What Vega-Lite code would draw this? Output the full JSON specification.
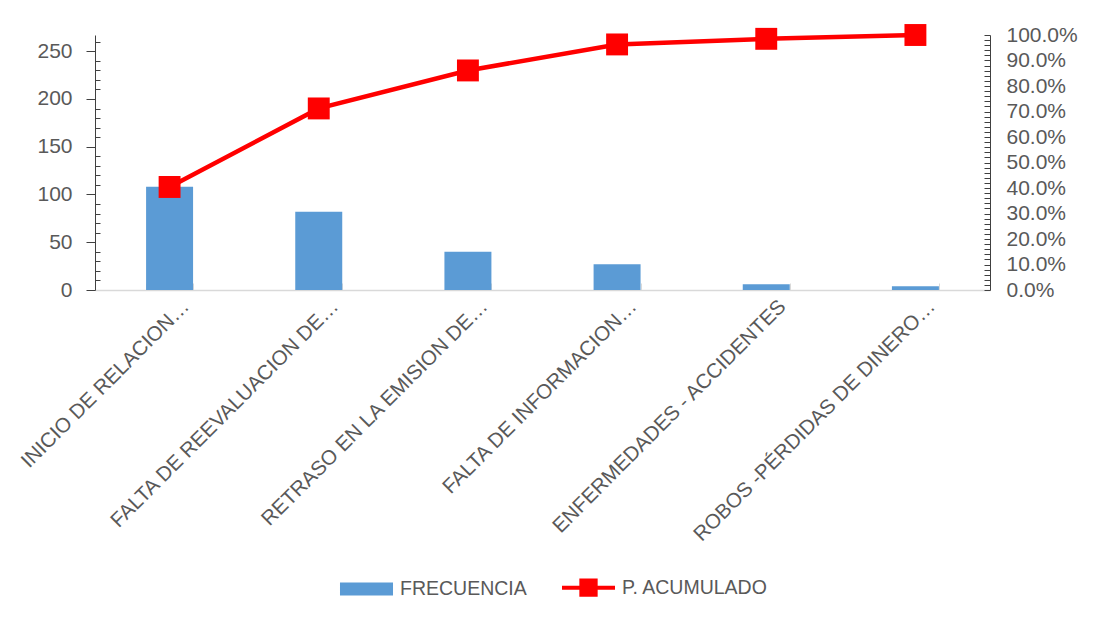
{
  "$schema": "https://vega.github.io/schema/vega-lite/v6.json",
  "width": 895,
  "height": 255,
  "autosize": {"type": "none"},
  "padding": {"left": 95, "top": 35, "right": 108, "bottom": 335},
  "background": "white",
  "config": {
    "view": {"stroke": null},
    "font": "Liberation Sans",
    "axis": {"labelColor": "#595959", "labelFont": "Liberation Sans", "grid": false},
    "legend": {"labelFont": "Liberation Sans"}
  },
  "data": {
    "values": [
      {"causa": "INICIO DE RELACION…", "frecuencia": 108, "pacum": 0.404},
      {"causa": "FALTA DE REEVALUACION DE…", "frecuencia": 82, "pacum": 0.712},
      {"causa": "RETRASO EN LA EMISION DE…", "frecuencia": 40, "pacum": 0.861},
      {"causa": "FALTA DE INFORMACION…", "frecuencia": 27, "pacum": 0.963},
      {"causa": "ENFERMEDADES - ACCIDENTES", "frecuencia": 6, "pacum": 0.985},
      {"causa": "ROBOS -PÉRDIDAS DE DINERO…", "frecuencia": 4, "pacum": 1.0}
    ]
  },
  "encoding": {
    "x": {
      "field": "causa",
      "type": "nominal",
      "sort": null,
      "scale": {"paddingInner": 0.685, "paddingOuter": 0.3425},
      "axis": {
        "title": null,
        "labelAngle": -45,
        "labelAlign": "right",
        "labelBaseline": "middle",
        "labelFontSize": 20.5,
        "labelPadding": 20,
        "labelOffset": 16,
        "labelLimit": 0,
        "domainColor": "#d9d9d9",
        "domainWidth": 1.5,
        "tickColor": "#d9d9d9",
        "tickSize": -7,
        "tickBand": "extent"
      }
    }
  },
  "layer": [
    {
      "mark": {"type": "bar"},
      "encoding": {
        "y": {
          "field": "frecuencia",
          "type": "quantitative",
          "scale": {"domain": [0, 267], "nice": false},
          "axis": {
            "title": null,
            "values": [0, 10, 20, 30, 40, 50, 60, 70, 80, 90, 100, 110, 120, 130, 140, 150, 160, 170, 180, 190, 200, 210, 220, 230, 240, 250, 260],
            "labelExpr": "datum.value % 50 === 0 ? datum.label : ''",
            "labelFontSize": 21,
            "labelPadding": 14,
            "labelOverlap": false,
            "labelFlush": false,
            "labelBound": false,
            "domainColor": "#404040",
            "tickColor": "#404040",
            "tickSize": {"condition": {"test": "datum.value % 50 === 0", "value": 9}, "value": -5}
          }
        },
        "color": {
          "datum": "FRECUENCIA",
          "type": "nominal",
          "scale": {"domain": ["FRECUENCIA", "P. ACUMULADO"], "range": ["#5B9BD5", "#FF0000"]},
          "legend": {
            "orient": "none",
            "legendX": 243,
            "legendY": 524,
            "direction": "horizontal",
            "title": null,
            "labelFontSize": 19.5,
            "labelColor": "#595959",
            "labelLimit": 300,
            "symbolSize": 2809,
            "labelOffset": 5,
            "columnPadding": 27,
            "symbolType": "square",
            "encode": {
              "symbols": {
                "update": {
                  "shape": {"signal": "datum.value === 'FRECUENCIA' ? 'M-0.925,-0.17H0.925V0.17H-0.925Z' : 'M-1,0H1M-0.27,-0.27H0.27V0.27H-0.27Z'"},
                  "strokeWidth": {"value": 4},
                  "fill": {"scale": "color", "field": "value"},
                  "stroke": {"scale": "color", "field": "value"}
                }
              }
            }
          }
        }
      }
    },
    {
      "mark": {
        "type": "line",
        "strokeWidth": 4.5,
        "point": {"shape": "square", "size": 480, "filled": true}
      },
      "encoding": {
        "y": {
          "field": "pacum",
          "type": "quantitative",
          "scale": {"domain": [0, 1], "nice": false},
          "axis": {
            "orient": "right",
            "title": null,
            "values": [0, 0.02, 0.04, 0.06, 0.08, 0.1, 0.12, 0.14, 0.16, 0.18, 0.2, 0.22, 0.24, 0.26, 0.28, 0.3, 0.32, 0.34, 0.36, 0.38, 0.4, 0.42, 0.44, 0.46, 0.48, 0.5, 0.52, 0.54, 0.56, 0.58, 0.6, 0.62, 0.64, 0.66, 0.68, 0.7, 0.72, 0.74, 0.76, 0.78, 0.8, 0.82, 0.84, 0.86, 0.88, 0.9, 0.92, 0.94, 0.96, 0.98, 1.0],
            "labelExpr": "round(datum.value * 100) % 10 === 0 ? format(datum.value, '.1%') : ''",
            "labelFontSize": 21,
            "labelPadding": 22,
            "labelOverlap": false,
            "labelFlush": false,
            "labelBound": false,
            "domainColor": "#404040",
            "tickColor": "#404040",
            "tickSize": -6
          }
        },
        "color": {"datum": "P. ACUMULADO", "type": "nominal"}
      }
    }
  ],
  "resolve": {"scale": {"y": "independent"}}
}
